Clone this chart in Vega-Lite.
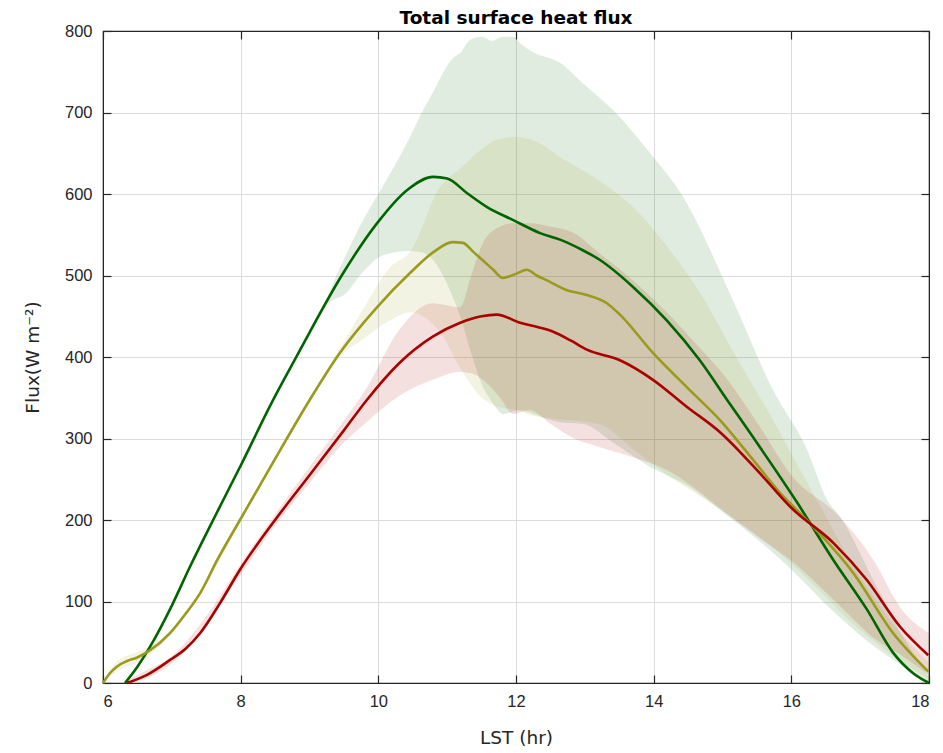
{
  "$schema": "https://vega.github.io/schema/vega-lite/v6.json",
  "width": 826,
  "height": 652,
  "autosize": {"type": "none"},
  "padding": {"left": 103, "top": 31, "right": 14, "bottom": 70},
  "background": "white",
  "title": {"text": "Total surface heat flux", "font": "DejaVu Sans", "fontSize": 18.5, "fontWeight": "bold", "color": "#000000", "offset": -4, "anchor": "middle"},
  "config": {
    "view": {"stroke": "#262626", "strokeWidth": 1.2},
    "axis": {
      "labelFont": "Liberation Sans",
      "titleFont": "DejaVu Sans",
      "labelFontSize": 16.5,
      "titleFontSize": 18.5,
      "labelColor": "#262626",
      "titleColor": "#262626",
      "titleFontWeight": "normal",
      "domainColor": "#262626",
      "tickColor": "#262626",
      "tickSize": -8,
      "tickWidth": 1.2,
      "gridColor": "#dcdcdc",
      "gridWidth": 1
    }
  },
  "datasets": {
    "lines": [
      {"s": "green", "x": 6.32, "y": 0}, {"s": "green", "x": 6.5, "y": 20}, {"s": "green", "x": 6.68, "y": 44}, {"s": "green", "x": 7.0, "y": 95}, {"s": "green", "x": 7.26, "y": 142}, {"s": "green", "x": 7.6, "y": 200}, {"s": "green", "x": 7.99, "y": 265}, {"s": "green", "x": 8.47, "y": 347}, {"s": "green", "x": 8.86, "y": 408}, {"s": "green", "x": 9.0, "y": 430}, {"s": "green", "x": 9.49, "y": 503}, {"s": "green", "x": 9.98, "y": 564}, {"s": "green", "x": 10.42, "y": 605}, {"s": "green", "x": 10.8, "y": 621}, {"s": "green", "x": 11.0, "y": 619}, {"s": "green", "x": 11.29, "y": 601}, {"s": "green", "x": 11.58, "y": 584}, {"s": "green", "x": 11.96, "y": 568}, {"s": "green", "x": 12.35, "y": 552}, {"s": "green", "x": 12.64, "y": 544}, {"s": "green", "x": 12.97, "y": 531}, {"s": "green", "x": 13.22, "y": 519}, {"s": "green", "x": 13.7, "y": 486}, {"s": "green", "x": 14.19, "y": 445}, {"s": "green", "x": 14.67, "y": 396}, {"s": "green", "x": 15.07, "y": 347}, {"s": "green", "x": 15.4, "y": 307}, {"s": "green", "x": 16.08, "y": 222}, {"s": "green", "x": 16.61, "y": 151}, {"s": "green", "x": 17.1, "y": 90}, {"s": "green", "x": 17.48, "y": 37}, {"s": "green", "x": 17.77, "y": 12}, {"s": "green", "x": 18.0, "y": 0},
      {"s": "olive", "x": 6.0, "y": 0}, {"s": "olive", "x": 6.1, "y": 12}, {"s": "olive", "x": 6.2, "y": 20}, {"s": "olive", "x": 6.35, "y": 27}, {"s": "olive", "x": 6.49, "y": 31}, {"s": "olive", "x": 6.68, "y": 40}, {"s": "olive", "x": 6.97, "y": 61}, {"s": "olive", "x": 7.2, "y": 85}, {"s": "olive", "x": 7.41, "y": 110}, {"s": "olive", "x": 7.66, "y": 151}, {"s": "olive", "x": 7.99, "y": 200}, {"s": "olive", "x": 8.5, "y": 275}, {"s": "olive", "x": 9.0, "y": 347}, {"s": "olive", "x": 9.44, "y": 405}, {"s": "olive", "x": 9.98, "y": 461}, {"s": "olive", "x": 10.46, "y": 503}, {"s": "olive", "x": 10.79, "y": 528}, {"s": "olive", "x": 11.08, "y": 541}, {"s": "olive", "x": 11.23, "y": 540}, {"s": "olive", "x": 11.38, "y": 529}, {"s": "olive", "x": 11.5, "y": 520}, {"s": "olive", "x": 11.67, "y": 507}, {"s": "olive", "x": 11.81, "y": 497}, {"s": "olive", "x": 12.0, "y": 502}, {"s": "olive", "x": 12.16, "y": 507}, {"s": "olive", "x": 12.3, "y": 500}, {"s": "olive", "x": 12.45, "y": 494}, {"s": "olive", "x": 12.74, "y": 482}, {"s": "olive", "x": 13.03, "y": 476}, {"s": "olive", "x": 13.32, "y": 466}, {"s": "olive", "x": 13.51, "y": 452}, {"s": "olive", "x": 13.99, "y": 405}, {"s": "olive", "x": 14.48, "y": 363}, {"s": "olive", "x": 14.96, "y": 323}, {"s": "olive", "x": 15.5, "y": 268}, {"s": "olive", "x": 15.84, "y": 233}, {"s": "olive", "x": 16.13, "y": 208}, {"s": "olive", "x": 16.9, "y": 135}, {"s": "olive", "x": 17.48, "y": 61}, {"s": "olive", "x": 17.99, "y": 14},
      {"s": "red", "x": 6.35, "y": 0}, {"s": "red", "x": 6.64, "y": 10}, {"s": "red", "x": 6.97, "y": 28}, {"s": "red", "x": 7.2, "y": 42}, {"s": "red", "x": 7.41, "y": 61}, {"s": "red", "x": 7.7, "y": 98}, {"s": "red", "x": 7.99, "y": 139}, {"s": "red", "x": 8.5, "y": 200}, {"s": "red", "x": 9.0, "y": 255}, {"s": "red", "x": 9.5, "y": 310}, {"s": "red", "x": 9.83, "y": 347}, {"s": "red", "x": 10.31, "y": 393}, {"s": "red", "x": 10.79, "y": 425}, {"s": "red", "x": 11.19, "y": 442}, {"s": "red", "x": 11.5, "y": 450}, {"s": "red", "x": 11.72, "y": 452}, {"s": "red", "x": 12.06, "y": 442}, {"s": "red", "x": 12.3, "y": 437}, {"s": "red", "x": 12.54, "y": 431}, {"s": "red", "x": 12.8, "y": 420}, {"s": "red", "x": 13.03, "y": 409}, {"s": "red", "x": 13.51, "y": 396}, {"s": "red", "x": 13.99, "y": 372}, {"s": "red", "x": 14.48, "y": 339}, {"s": "red", "x": 14.96, "y": 308}, {"s": "red", "x": 15.59, "y": 253}, {"s": "red", "x": 16.0, "y": 215}, {"s": "red", "x": 16.61, "y": 172}, {"s": "red", "x": 17.1, "y": 126}, {"s": "red", "x": 17.58, "y": 69}, {"s": "red", "x": 17.99, "y": 34}
    ],
    "bands": [
      {"s": "green", "x": 9.2, "lo": 462, "hi": 462}, {"s": "green", "x": 9.34, "lo": 470, "hi": 490}, {"s": "green", "x": 9.5, "lo": 476, "hi": 520}, {"s": "green", "x": 9.78, "lo": 505, "hi": 568}, {"s": "green", "x": 10.07, "lo": 525, "hi": 610}, {"s": "green", "x": 10.46, "lo": 530, "hi": 670}, {"s": "green", "x": 10.65, "lo": 528, "hi": 703}, {"s": "green", "x": 10.75, "lo": 523, "hi": 718}, {"s": "green", "x": 11.1, "lo": 470, "hi": 768}, {"s": "green", "x": 11.19, "lo": 450, "hi": 773}, {"s": "green", "x": 11.33, "lo": 410, "hi": 789}, {"s": "green", "x": 11.51, "lo": 365, "hi": 793}, {"s": "green", "x": 11.65, "lo": 345, "hi": 788}, {"s": "green", "x": 11.81, "lo": 330, "hi": 793}, {"s": "green", "x": 11.96, "lo": 333, "hi": 793}, {"s": "green", "x": 12.06, "lo": 335, "hi": 785}, {"s": "green", "x": 12.25, "lo": 330, "hi": 774}, {"s": "green", "x": 12.64, "lo": 320, "hi": 761}, {"s": "green", "x": 12.97, "lo": 318, "hi": 736}, {"s": "green", "x": 13.41, "lo": 295, "hi": 703}, {"s": "green", "x": 13.95, "lo": 265, "hi": 650}, {"s": "green", "x": 14.43, "lo": 245, "hi": 596}, {"s": "green", "x": 15.15, "lo": 200, "hi": 470}, {"s": "green", "x": 15.73, "lo": 160, "hi": 360}, {"s": "green", "x": 16.23, "lo": 120, "hi": 286}, {"s": "green", "x": 16.52, "lo": 95, "hi": 225}, {"s": "green", "x": 16.71, "lo": 80, "hi": 204}, {"s": "green", "x": 17.2, "lo": 45, "hi": 125}, {"s": "green", "x": 17.6, "lo": 22, "hi": 60}, {"s": "green", "x": 18.0, "lo": 0, "hi": 8},
      {"s": "olive", "x": 6.0, "lo": 0, "hi": 2}, {"s": "olive", "x": 6.2, "lo": 14, "hi": 26}, {"s": "olive", "x": 6.5, "lo": 25, "hi": 38}, {"s": "olive", "x": 6.7, "lo": 36, "hi": 46}, {"s": "olive", "x": 7.0, "lo": 60, "hi": 66}, {"s": "olive", "x": 7.5, "lo": 121, "hi": 126}, {"s": "olive", "x": 8.0, "lo": 198, "hi": 203}, {"s": "olive", "x": 8.5, "lo": 272, "hi": 278}, {"s": "olive", "x": 9.0, "lo": 344, "hi": 350}, {"s": "olive", "x": 9.44, "lo": 400, "hi": 410}, {"s": "olive", "x": 9.83, "lo": 425, "hi": 466}, {"s": "olive", "x": 10.17, "lo": 445, "hi": 510}, {"s": "olive", "x": 10.46, "lo": 455, "hi": 529}, {"s": "olive", "x": 10.9, "lo": 430, "hi": 609}, {"s": "olive", "x": 11.2, "lo": 385, "hi": 632}, {"s": "olive", "x": 11.5, "lo": 350, "hi": 655}, {"s": "olive", "x": 11.7, "lo": 340, "hi": 666}, {"s": "olive", "x": 12.0, "lo": 335, "hi": 670}, {"s": "olive", "x": 12.25, "lo": 328, "hi": 666}, {"s": "olive", "x": 12.7, "lo": 323, "hi": 642}, {"s": "olive", "x": 13.2, "lo": 318, "hi": 617}, {"s": "olive", "x": 13.7, "lo": 287, "hi": 584}, {"s": "olive", "x": 14.2, "lo": 255, "hi": 535}, {"s": "olive", "x": 14.7, "lo": 228, "hi": 475}, {"s": "olive", "x": 15.2, "lo": 200, "hi": 400}, {"s": "olive", "x": 15.65, "lo": 172, "hi": 335}, {"s": "olive", "x": 16.27, "lo": 125, "hi": 240}, {"s": "olive", "x": 17.0, "lo": 65, "hi": 130}, {"s": "olive", "x": 17.5, "lo": 32, "hi": 70}, {"s": "olive", "x": 18.0, "lo": 5, "hi": 25},
      {"s": "red", "x": 6.35, "lo": 0, "hi": 3}, {"s": "red", "x": 6.6, "lo": 5, "hi": 14}, {"s": "red", "x": 7.0, "lo": 24, "hi": 33}, {"s": "red", "x": 7.5, "lo": 72, "hi": 82}, {"s": "red", "x": 8.0, "lo": 133, "hi": 146}, {"s": "red", "x": 8.5, "lo": 193, "hi": 207}, {"s": "red", "x": 9.0, "lo": 245, "hi": 265}, {"s": "red", "x": 9.5, "lo": 295, "hi": 322}, {"s": "red", "x": 9.83, "lo": 320, "hi": 362}, {"s": "red", "x": 10.3, "lo": 352, "hi": 433}, {"s": "red", "x": 10.79, "lo": 372, "hi": 466}, {"s": "red", "x": 11.19, "lo": 382, "hi": 461}, {"s": "red", "x": 11.35, "lo": 380, "hi": 500}, {"s": "red", "x": 11.52, "lo": 372, "hi": 540}, {"s": "red", "x": 11.77, "lo": 350, "hi": 560}, {"s": "red", "x": 11.96, "lo": 330, "hi": 564}, {"s": "red", "x": 12.2, "lo": 335, "hi": 564}, {"s": "red", "x": 12.5, "lo": 318, "hi": 560}, {"s": "red", "x": 12.84, "lo": 300, "hi": 552}, {"s": "red", "x": 13.2, "lo": 290, "hi": 528}, {"s": "red", "x": 13.7, "lo": 277, "hi": 494}, {"s": "red", "x": 14.2, "lo": 261, "hi": 454}, {"s": "red", "x": 14.66, "lo": 235, "hi": 412}, {"s": "red", "x": 15.0, "lo": 212, "hi": 380}, {"s": "red", "x": 15.5, "lo": 180, "hi": 320}, {"s": "red", "x": 16.0, "lo": 150, "hi": 255}, {"s": "red", "x": 16.7, "lo": 95, "hi": 204}, {"s": "red", "x": 17.2, "lo": 55, "hi": 150}, {"s": "red", "x": 17.58, "lo": 35, "hi": 93}, {"s": "red", "x": 18.0, "lo": 10, "hi": 61}
    ]
  },
  "layer": [
    {
      "data": {"name": "bands"},
      "mark": {"type": "area", "opacity": 0.12, "interpolate": "monotone"},
      "encoding": {
        "x": {"field": "x", "type": "quantitative", "scale": {"domain": [6, 18], "nice": false, "zero": false},
              "axis": {"values": [6, 8, 10, 12, 14, 16, 18], "title": "LST (hr)", "labelPadding": 18, "titlePadding": 19, "grid": true, "tickSize": -8}},
        "y": {"field": "hi", "type": "quantitative", "stack": null, "scale": {"domain": [0, 800], "nice": false},
              "axis": {"values": [0, 100, 200, 300, 400, 500, 600, 700, 800], "title": "Flux(W m⁻²)", "labelPadding": 19, "titlePadding": 22, "grid": true, "tickSize": -8}},
        "y2": {"field": "lo"},
        "color": {"field": "s", "type": "nominal", "scale": {"domain": ["green", "olive", "red"], "range": ["#006400", "#9a9a1c", "#aa0000"]}, "legend": null}
      }
    },
    {
      "data": {"name": "lines"},
      "mark": {"type": "line", "strokeWidth": 2.6, "interpolate": "monotone"},
      "encoding": {
        "x": {"field": "x", "type": "quantitative",
              "axis": {"orient": "top", "values": [6, 8, 10, 12, 14, 16, 18], "labels": false, "title": null, "grid": false, "tickSize": -8}},
        "y": {"field": "y", "type": "quantitative",
              "axis": {"orient": "right", "values": [0, 100, 200, 300, 400, 500, 600, 700, 800], "labels": false, "title": null, "grid": false, "tickSize": -8}},
        "color": {"field": "s", "type": "nominal", "legend": null},
        "detail": {"field": "s"}
      }
    }
  ],
  "resolve": {"axis": {"x": "independent", "y": "independent"}}
}
